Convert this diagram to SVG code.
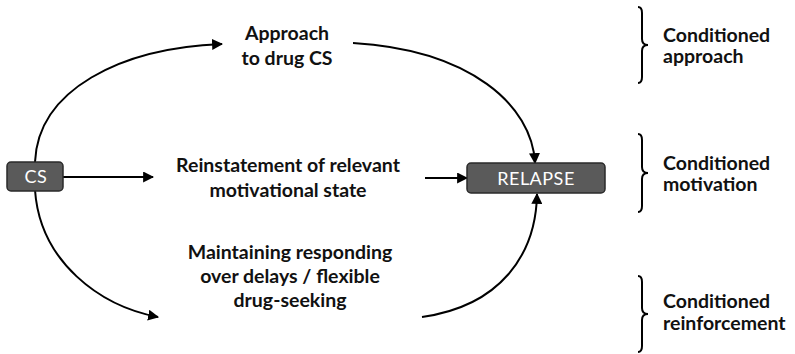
<svg xmlns="http://www.w3.org/2000/svg" width="795" height="354" viewBox="0 0 795 354">
<defs>
<marker id="ah" viewBox="0 0 10 10" refX="9" refY="5" markerWidth="5.5" markerHeight="5.5" orient="auto" markerUnits="strokeWidth">
<path d="M0,0 L10,5 L0,10 z" fill="#000"/>
</marker>
<style>
.lbl{font-family:Lato,"Liberation Sans",sans-serif;font-weight:bold;font-size:19.5px;fill:#111;}
.mid{text-anchor:middle;}
.box{fill:#5a5a5a;stroke:#2a2a2a;stroke-width:1.5;}
.btxt{font-family:Lato,"Liberation Sans",sans-serif;font-weight:normal;font-size:18px;fill:#fff;text-anchor:middle;letter-spacing:0.5px;}
.edge{fill:none;stroke:#000;stroke-width:2;marker-end:url(#ah);}
.brace{fill:none;stroke:#000;stroke-width:2;}
</style>
</defs>
<rect width="795" height="354" fill="#fff"/>
<g id="connectors">
<path class="edge" d="M35,162 C38,90 120,48 222,44"/>
<path class="edge" d="M63,177 L153,177"/>
<path class="edge" d="M35,190 C40,262 100,306 158,317"/>
<path class="edge" d="M353,43 C470,50 532,105 535,163"/>
<path class="edge" d="M425,178 L467,178"/>
<path class="edge" d="M422,317 C500,306 536,255 537,194"/>
</g>
<g id="cs">
<rect class="box" x="7" y="162" width="56" height="29" rx="4"/>
<text class="btxt" x="36" y="183">CS</text>
</g>
<g id="relapse">
<rect class="box" x="467" y="163" width="138" height="30" rx="4"/>
<text class="btxt" x="536" y="185">RELAPSE</text>
</g>
<g id="approach">
<text class="lbl mid" x="287" y="40">Approach</text>
<text class="lbl mid" x="287" y="65">to drug CS</text>
</g>
<g id="reinstatement">
<text class="lbl mid" x="288" y="172">Reinstatement of relevant</text>
<text class="lbl mid" x="288" y="197">motivational state</text>
</g>
<g id="maintaining">
<text class="lbl mid" x="290" y="259">Maintaining responding</text>
<text class="lbl mid" x="290" y="283">over delays / flexible</text>
<text class="lbl mid" x="290" y="307">drug-seeking</text>
</g>
<g id="cond-approach">
<path class="brace" d="M638,7 Q642,7 642,13 L642,39 Q642,45 648,45 Q642,45 642,51 L642,77 Q642,83 638,83"/>
<text class="lbl" x="663" y="42">Conditioned</text>
<text class="lbl" x="663" y="63">approach</text>
</g>
<g id="cond-motivation">
<path class="brace" d="M638,134 Q642,134 642,140 L642,167 Q642,173 648,173 Q642,173 642,179 L642,206 Q642,212 638,212"/>
<text class="lbl" x="663" y="170">Conditioned</text>
<text class="lbl" x="663" y="191">motivation</text>
</g>
<g id="cond-reinforcement">
<path class="brace" d="M638,276 Q642,276 642,282 L642,308 Q642,314 648,314 Q642,314 642,320 L642,346 Q642,352 638,352"/>
<text class="lbl" x="663" y="308">Conditioned</text>
<text class="lbl" x="663" y="330">reinforcement</text>
</g>
</svg>
